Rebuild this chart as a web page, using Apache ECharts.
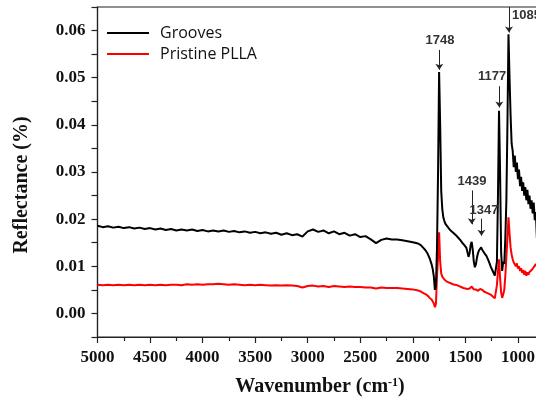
<!DOCTYPE html>
<html>
<head>
<meta charset="utf-8">
<script src="https://cdn.jsdelivr.net/npm/echarts@6/dist/echarts.min.js"></script>
<style>html,body{margin:0;padding:0;background:#fff;}#c{width:536px;height:403px;}</style>
</head>
<body>
<div id="c"></div>
<script>
const wavenumbers = [
5000,4950,4900,4850,4800,4750,4700,4650,4600,4550,
4500,4450,4400,4350,4300,4250,4200,4150,4100,4050,
4000,3950,3900,3850,3800,3750,3700,3650,3600,3550,
3500,3450,3400,3350,3300,3250,3200,3150,3100,3050,
3000,2950,2900,2850,2800,2750,2700,2650,2600,2550,
2500,2450,2400,2350,2300,2250,2200,2150,2100,2050,
2000,
1980,1960,1940,1920,1900,1880,1860,1840,1820,
1810,1800,1790,1780,1770,1760,1750,1740,1730,1720,
1710,1700,1690,1680,1670,1660,1650,1640,1630,1620,
1610,1600,1590,1580,1570,1560,1550,1540,1530,1520,
1510,1500,1490,1480,1470,1460,1450,1440,1430,1420,
1410,1400,1390,1380,1370,1360,1350,1340,1330,1320,
1310,1300,1290,1280,1270,1260,1250,1240,1230,1220,
1210,1200,1190,1180,1170,1160,1150,1140,1130,1120,
1110,1100,1090,1080,1070,1060,1050,1040,1030,1020,
1010,1000,990,980,970,960,950,940,930,920,
910,900,890,880,870,860,850,840,830,820
];
const grooves = [
.0186,.0183,.0185,.0182,.0184,.0181,.0183,.0180,.0182,.0179,
.0181,.0178,.0180,.0177,.0179,.0176,.0178,.0176,.0178,.0175,
.0177,.0174,.0176,.0174,.0176,.0173,.0175,.0172,.0174,.0171,
.0173,.0170,.0172,.0169,.0171,.0167,.0170,.0166,.0168,.0163,
.0174,.0178,.0173,.0176,.0170,.0174,.0168,.0171,.0165,.0168,
.0162,.0164,.0157,.0149,.0156,.0159,.0157,.0157,.0155,.0153,
.0151,
.0150,.0149,.0147,.0144,.0139,.0134,.0127,.0117,.0103,
.0093,.0078,.0050,.0060,.0140,.0300,.0512,.0400,.0260,.0222,
.0204,.0196,.0190,.0186,.0184,.0181,.0178,.0175,.0174,.0172,
.0170,.0169,.0166,.0164,.0161,.0159,.0156,.0154,.0150,.0148,
.0145,.0142,.0139,.0136,.0120,.0128,.0145,.0152,.0135,.0110,
.0098,.0104,.0118,.0128,.0134,.0138,.0140,.0135,.0132,.0128,
.0126,.0122,.0118,.0112,.0106,.0100,.0096,.0090,.0086,.0080,
.0076,.0110,.0250,.0430,.0300,.0130,.0090,.0110,.0105,.0160,
.0240,.0400,.0592,.0500,.0420,.0360,.0345,.0310,.0335,.0300,
.0320,.0285,.0305,.0270,.0290,.0260,.0278,.0250,.0268,.0240,
.0262,.0232,.0250,.0222,.0240,.0212,.0235,.0198,.0215,.0160
];
const pristine = [
.0061,.0060,.0061,.0060,.0061,.0060,.0061,.0060,.0061,.0060,
.0061,.0060,.0061,.0060,.0061,.0061,.0060,.0062,.0061,.0062,
.0061,.0062,.0062,.0063,.0062,.0061,.0062,.0061,.0060,.0061,
.0060,.0061,.0060,.0059,.0060,.0059,.0060,.0059,.0058,.0055,
.0058,.0059,.0057,.0058,.0056,.0058,.0057,.0056,.0057,.0056,
.0056,.0055,.0055,.0053,.0055,.0054,.0054,.0054,.0053,.0052,
.0051,
.0050,.0049,.0048,.0046,.0043,.0041,.0038,.0033,.0029,
.0026,.0021,.0013,.0020,.0080,.0120,.0172,.0110,.0085,.0078,
.0076,.0072,.0070,.0068,.0069,.0066,.0067,.0064,.0066,.0062,
.0064,.0061,.0063,.0060,.0062,.0058,.0059,.0056,.0057,.0054,
.0056,.0053,.0055,.0052,.0054,.0053,.0056,.0057,.0054,.0051,
.0049,.0051,.0050,.0048,.0050,.0052,.0054,.0050,.0048,.0046,
.0047,.0044,.0045,.0042,.0043,.0040,.0041,.0036,.0034,.0032,
.0035,.0060,.0090,.0115,.0075,.0045,.0033,.0040,.0050,.0080,
.0120,.0160,.0204,.0170,.0140,.0125,.0115,.0108,.0112,.0100,
.0106,.0095,.0100,.0090,.0096,.0086,.0092,.0082,.0090,.0080,
.0087,.0082,.0088,.0084,.0092,.0088,.0098,.0094,.0105,.0100
];
const seriesNames = ['Grooves', 'Pristine PLLA'];
const xTicks = [5000, 4500, 4000, 3500, 3000, 2500, 2000, 1500, 1000];
// peak annotations: label text, arrow wavenumber, arrow start/end value, label anchor
const peakLabels = ['1748', '1177', '1085', '1439', '1347'];
const peakWn = [1748, 1177, 1085, 1439, 1347];
const arrowFrom = [0.0559, 0.0482, 0.0650, 0.0261, 0.0201];
const arrowTo = [0.0517, 0.0437, 0.0596, 0.0189, 0.0165];
const labelWn = [1741, 1246, 1056, 1437, 1323];
const labelY = [0.0580, 0.0502, 0.0633, 0.0280, 0.0218];
const labelAlign = ['center', 'center', 'left', 'center', 'center'];

const toPairs = (ys) => wavenumbers.map((w, i) => [w, ys[i]]);

const chart = echarts.init(document.getElementById('c'), null, {renderer: 'canvas'});
const serif = 'Liberation Serif, Times New Roman, serif';
const option = {
  animation: false,
  backgroundColor: '#fff',
  grid: {
    left: 97.5, right: -34.5, top: 7, bottom: 66,
    show: true, borderColor: '#222', borderWidth: 1.2,
    containLabel: false, outerBoundsMode: 'none'
  },
  legend: {
    orient: 'vertical', left: 102, top: 20,
    itemWidth: 42, itemHeight: 2, itemGap: 5, icon: 'rect',
    data: seriesNames,
    textStyle: {fontFamily: 'Open Sans', fontSize: 16, color: '#111', lineHeight: 16, padding: [0, 0, 0, 6]}
  },
  xAxis: {
    type: 'value', min: 500, max: 5000, interval: 500, inverse: true,
    name: 'Wavenumber (cm{sup|-1})', nameLocation: 'middle', nameGap: 40,
    nameTextStyle: {
      fontFamily: serif, fontWeight: 'bold', fontSize: 20, color: '#111',
      padding: [0, 28, 0, 0],
      rich: {sup: {fontFamily: serif, fontWeight: 'bold', fontSize: 12, verticalAlign: 'top', lineHeight: 12, padding: [0, 0, 10, 0]}}
    },
    axisLine: {show: true, onZero: false, lineStyle: {color: '#222', width: 1.2}},
    axisTick: {show: true, inside: false, length: 6, lineStyle: {color: '#222', width: 1.2}},
    minorTick: {show: true, splitNumber: 2, length: 4, lineStyle: {color: '#222', width: 1.2}},
    splitLine: {show: false}, minorSplitLine: {show: false},
    axisLabel: {
      margin: 12, fontFamily: serif, fontWeight: 'bold', fontSize: 17, color: '#111',
      formatter: (v) => xTicks.includes(v) ? String(v) : ''
    }
  },
  yAxis: {
    type: 'value', min: -0.005, max: 0.065, interval: 0.005,
    name: 'Reflectance (%)', nameLocation: 'middle', nameGap: 66, nameRotate: 90,
    nameTextStyle: {fontFamily: serif, fontWeight: 'bold', fontSize: 20, color: '#111', padding: [0, 26, 0, 0]},
    axisLine: {show: true, onZero: false, lineStyle: {color: '#222', width: 1.2}},
    axisTick: {show: true, inside: false, length: 6, lineStyle: {color: '#222', width: 1.2}},
    splitLine: {show: false},
    axisLabel: {
      margin: 12, fontFamily: serif, fontWeight: 'bold', fontSize: 17, color: '#111',
      formatter: (v) => (Math.round(v * 1000) % 10 === 0) ? v.toFixed(2) : ''
    }
  },
  series: [
    {
      name: seriesNames[0], type: 'line', data: toPairs(grooves),
      showSymbol: false, symbol: 'none', clip: true,
      lineStyle: {color: '#000', width: 2}, itemStyle: {color: '#000'},
      z: 3,
      markLine: {
        silent: true, symbol: ['none', 'arrow'], symbolSize: 6,
        label: {show: false},
        lineStyle: {color: '#222', width: 1, type: 'solid'},
        data: peakWn.map((w, i) => [{coord: [w, arrowFrom[i]]}, {coord: [w, arrowTo[i]]}])
      },
      markPoint: {
        silent: true, symbol: 'circle', symbolSize: 0,
        label: {show: true, position: 'inside', formatter: (p) => p.name,
          fontFamily: 'Liberation Sans, Arial, sans-serif', fontSize: 13, fontWeight: 'bold', color: '#333'},
        data: peakLabels.map((t, i) => ({name: t, coord: [labelWn[i], labelY[i]],
          label: {align: labelAlign[i]}}))
      }
    },
    {
      name: seriesNames[1], type: 'line', data: toPairs(pristine),
      showSymbol: false, symbol: 'none', clip: true,
      lineStyle: {color: '#ff0000', width: 2}, itemStyle: {color: '#ff0000'},
      z: 2
    }
  ]
};
chart.setOption(option);
</script>
</body>
</html>
